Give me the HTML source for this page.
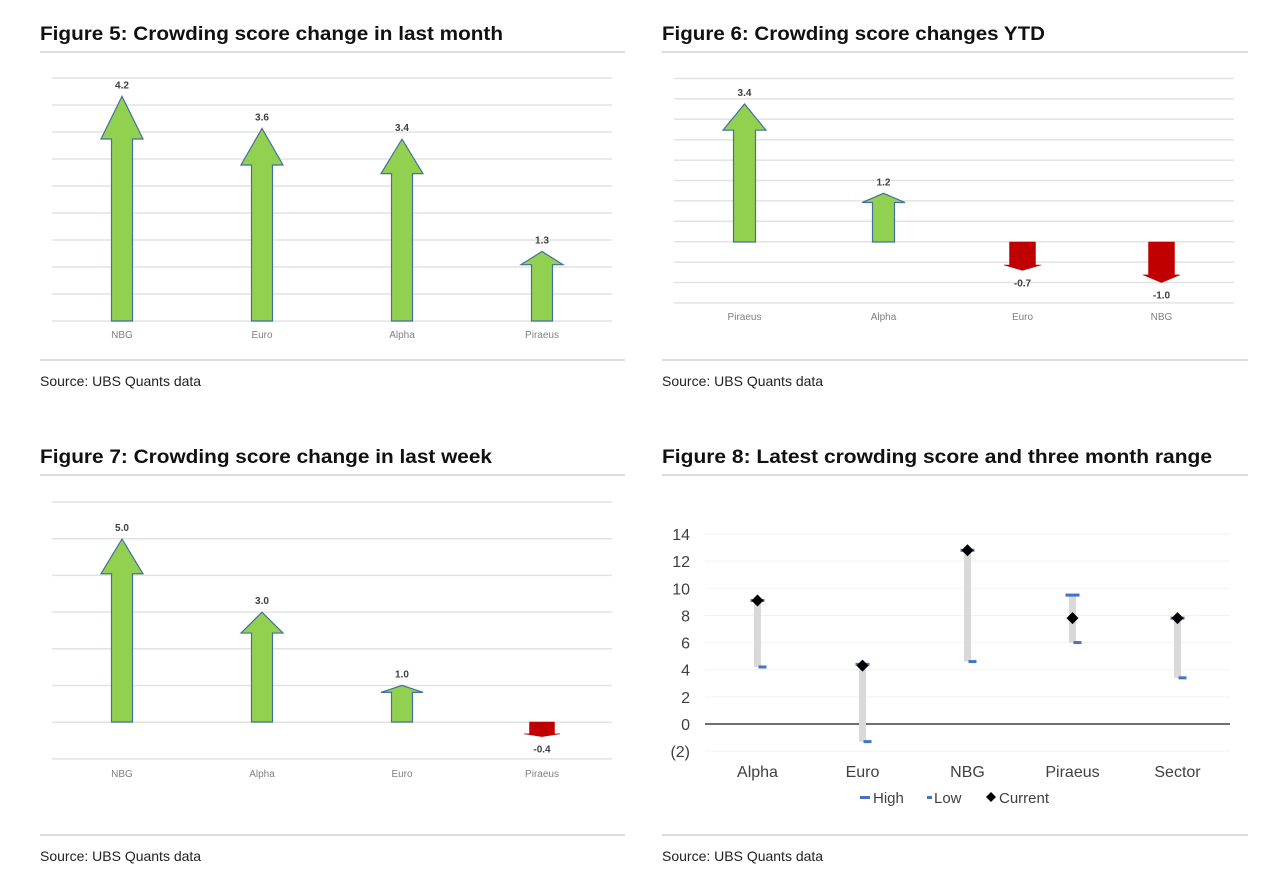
<!DOCTYPE html>
<html><head><meta charset="utf-8"><style>
body{margin:0;background:#fff;width:1280px;height:892px;overflow:hidden;font-family:"Liberation Sans",sans-serif}
svg{position:absolute;left:0;top:0}
</style></head><body>
<svg width="1280" height="892" id="root">
<g><text x="40" y="40" font-size="19" font-weight="bold" fill="#111" textLength="463" lengthAdjust="spacingAndGlyphs">Figure 5: Crowding score change in last month</text></g>
<line x1="40" y1="52" x2="625" y2="52" stroke="#d0d0d0" stroke-width="1.5"/>
<line x1="40" y1="360" x2="625" y2="360" stroke="#d0d0d0" stroke-width="1.5"/>
<text x="40" y="386" font-size="14" fill="#222">Source: UBS Quants data</text>

<g><text x="662" y="40" font-size="19" font-weight="bold" fill="#111" textLength="383" lengthAdjust="spacingAndGlyphs">Figure 6: Crowding score changes YTD</text></g>
<line x1="662" y1="52" x2="1248" y2="52" stroke="#d0d0d0" stroke-width="1.5"/>
<line x1="662" y1="360" x2="1248" y2="360" stroke="#d0d0d0" stroke-width="1.5"/>
<text x="662" y="386" font-size="14" fill="#222">Source: UBS Quants data</text>

<g><text x="40" y="463" font-size="19" font-weight="bold" fill="#111" textLength="452" lengthAdjust="spacingAndGlyphs">Figure 7: Crowding score change in last week</text></g>
<line x1="40" y1="475" x2="625" y2="475" stroke="#d0d0d0" stroke-width="1.5"/>
<line x1="40" y1="835" x2="625" y2="835" stroke="#d0d0d0" stroke-width="1.5"/>
<text x="40" y="861" font-size="14" fill="#222">Source: UBS Quants data</text>

<g><text x="662" y="463" font-size="19" font-weight="bold" fill="#111" textLength="550" lengthAdjust="spacingAndGlyphs">Figure 8: Latest crowding score and three month range</text></g>
<line x1="662" y1="475" x2="1248" y2="475" stroke="#d0d0d0" stroke-width="1.5"/>
<line x1="662" y1="835" x2="1248" y2="835" stroke="#d0d0d0" stroke-width="1.5"/>
<text x="662" y="861" font-size="14" fill="#222">Source: UBS Quants data</text>
<g id="charts"></g>
</svg>
<script>
// Figure 5
const f5Cats=["NBG","Euro","Alpha","Piraeus"];
const f5Vals=[4.2,3.6,3.4,1.3];
// Figure 6
const f6Cats=["Piraeus","Alpha","Euro","NBG"];
const f6Vals=[3.4,1.2,-0.7,-1.0];
// Figure 7
const f7Cats=["NBG","Alpha","Euro","Piraeus"];
const f7Vals=[5.0,3.0,1.0,-0.4];
// Figure 8
const f8Cats=["Alpha","Euro","NBG","Piraeus","Sector"];
const f8High=[9.1,4.4,12.8,9.5,7.8];
const f8Low=[4.2,-1.3,4.6,6.0,3.4];
const f8Current=[9.1,4.3,12.8,7.8,7.8];
const f8Ticks=[14,12,10,8,6,4,2,0,-2];
const f8TickLabels=["14","12","10","8","6","4","2","0","(2)"];

const NS="http://www.w3.org/2000/svg";
const root=document.getElementById('charts');
function mk(tag,attrs,parent){const e=document.createElementNS(NS,tag);for(const k in attrs)e.setAttribute(k,attrs[k]);(parent||root).appendChild(e);return e;}

function arrowChart(name,cats,vals,o){
  const g=mk('g',{});
  
  
  const y=v=>o.zeroY-v*o.pxPerUnit;
  for(let i=0;i<o.gridN;i++){const gy=o.gridTop+i*o.gridStep;mk('line',{x1:o.gx0,x2:o.gx1,y1:gy,y2:gy,stroke:'#e3e3e3','stroke-width':1.5},g);}
  const step=(o.x1-o.x0)/cats.length;
  cats.forEach((c,i)=>{
    const cx=o.x0+step*(i+0.5);
    const v=vals[i];const z=o.zeroY, t=y(v);
    const len=z-t; const hh=len*0.19; const sh=t+hh;
    const up=v>=0;
    const sw=up?o.shaft:o.shaft+4, hw=up?o.head:o.head-6;
    const pts=[[cx-sw/2,z],[cx-sw/2,sh],[cx-hw/2,sh],[cx,t],[cx+hw/2,sh],[cx+sw/2,sh],[cx+sw/2,z]].map(p=>p.join(',')).join(' ');
    const a=mk('polygon',{points:pts,fill:up?'#92d050':'#c00000',stroke:up?'#41719c':'#c00000','stroke-width':up?1.2:0.5},g);
    
    
    const lbl=mk('text',{x:cx,y:up?t-8:t+16,'font-size':10,'font-weight':'bold',fill:'#404040','text-anchor':'middle'},g);
    lbl.textContent=v.toFixed(1);
    
    
    const cl=mk('text',{x:cx,y:o.labelY,'font-size':10,fill:'#808080','text-anchor':'middle'},g);
    cl.textContent=c;
    
    
  });
}
arrowChart('figure-5-chart',f5Cats,f5Vals,{x0:52,x1:612,gx0:52,gx1:612,zeroY:321,pxPerUnit:53.5,gridTop:78,gridStep:27,gridN:10,shaft:21,head:42,labelY:338});
arrowChart('figure-6-chart',f6Cats,f6Vals,{x0:675,x1:1231,gx0:674,gx1:1234,zeroY:242,pxPerUnit:40.6,gridTop:78.5,gridStep:20.4,gridN:12,shaft:22,head:43,labelY:320});
arrowChart('figure-7-chart',f7Cats,f7Vals,{x0:52,x1:612,gx0:52,gx1:612,zeroY:722,pxPerUnit:36.6,gridTop:502,gridStep:36.7,gridN:8,shaft:21,head:42,labelY:777});

// Figure 8
(function(){
  const g=mk('g',{});
  
  
  const x0=705,x1=1230,ppu=13.57,zeroY=724;
  const y=v=>zeroY-v*ppu;
  const step=(x1-x0)/f8Cats.length;
  const cx=i=>x0+step*(i+0.5);
  f8Ticks.forEach((t,i)=>{
    if(t!==0) mk('line',{x1:x0,x2:x1,y1:y(t),y2:y(t),stroke:'#f2f2f2','stroke-width':1},g);
    const tl=mk('text',{x:690,y:y(t)+6,'font-size':16,fill:'#404040','text-anchor':'end'},g);
    tl.textContent=f8TickLabels[i];
    
    
  });
  mk('line',{x1:x0,x2:x1,y1:y(0),y2:y(0),stroke:'#404040','stroke-width':1.5},g);
  f8Cats.forEach((c,i)=>{
    const x=cx(i);
    const r=mk('rect',{x:x-3.5,y:y(f8High[i]),width:7,height:y(f8Low[i])-y(f8High[i]),fill:'#d9d9d9'},g);
    
    
    const h=mk('rect',{x:x-7,y:y(f8High[i])-1.5,width:14,height:3,fill:'#4472c4'},g);
    
    
    const l=mk('rect',{x:x+1,y:y(f8Low[i])-1.5,width:8,height:3,fill:'#4472c4'},g);
    
    
    const cy=y(f8Current[i]);
    const d=mk('polygon',{points:`${x},${cy-6} ${x+6},${cy} ${x},${cy+6} ${x-6},${cy}`,fill:'#000'},g);
    
    
    const cl=mk('text',{x:x,y:777,'font-size':16,fill:'#404040','text-anchor':'middle'},g);
    cl.textContent=c;
    
    
  });
  const lg=mk('g',{},g);
  
  
  mk('rect',{x:860,y:796,width:10,height:3,fill:'#4472c4'},lg);
  const t1=mk('text',{x:873,y:803,'font-size':15,fill:'#404040'},lg);t1.textContent='High';
  
  
  mk('rect',{x:927,y:796,width:5,height:3,fill:'#4472c4'},lg);
  const t2=mk('text',{x:934,y:803,'font-size':15,fill:'#404040'},lg);t2.textContent='Low';
  
  
  mk('polygon',{points:'991,792 996,797 991,802 986,797',fill:'#000'},lg);
  const t3=mk('text',{x:999,y:803,'font-size':15,fill:'#404040'},lg);t3.textContent='Current';
  
  
})();
</script>
</body></html>
